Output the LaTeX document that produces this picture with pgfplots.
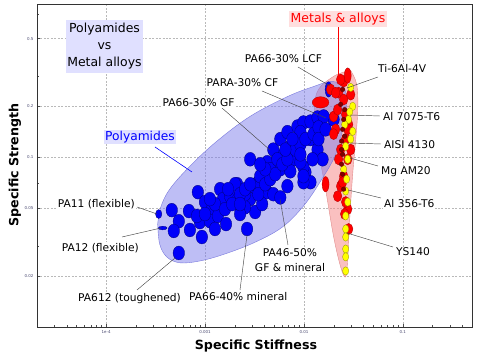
\documentclass[border=0pt]{standalone}
\usepackage{pgfplots}
\pgfplotsset{compat=1.18}
\usepackage{fontspec}
\setmainfont{DejaVu Sans}
\definecolor{envblue}{RGB}{125,125,235}
\definecolor{envblueedge}{RGB}{120,120,220}
\definecolor{envpink}{RGB}{245,129,129}
\definecolor{envpinkedge}{RGB}{225,140,140}
\definecolor{ptblue}{RGB}{0,0,250}
\definecolor{ptblueedge}{RGB}{0,0,120}
\definecolor{ptred}{RGB}{255,0,0}
\definecolor{ptrededge}{RGB}{170,0,0}
\definecolor{ptyel}{RGB}{255,255,0}
\definecolor{ptyeledge}{RGB}{150,150,0}
\definecolor{ptdark}{RGB}{128,0,0}
\definecolor{lav}{RGB}{224,224,255}
\definecolor{pinkbox}{RGB}{255,222,222}
\definecolor{tickc}{RGB}{70,70,110}
\definecolor{leader}{RGB}{70,70,70}
\newcommand\lab{\fontsize{10.7}{13}\selectfont}
\begin{document}
\begin{tikzpicture}
\path[use as bounding box] (-37bp,-32bp) rectangle (443bp,327bp);
\begin{axis}[
  at={(0,0)}, anchor=south west,
  scale only axis, width=435bp, height=323bp,
  xmode=log, ymode=log,
  xmin=2e-5, xmax=0.5, ymin=0.01, ymax=0.8,
  xtick={1e-4,1e-3,1e-2,1e-1}, xticklabels={1e-4,0.001,0.01,0.1},
  ytick={0.02,0.05,0.1,0.2,0.5}, yticklabels={0.02,0.05,0.1,0.2,0.5},
  minor xtick={3e-5,4e-5,5e-5,6e-5,7e-5,8e-5,9e-5,2e-4,3e-4,4e-4,5e-4,6e-4,7e-4,8e-4,9e-4,2e-3,3e-3,4e-3,5e-3,6e-3,7e-3,8e-3,9e-3,0.02,0.03,0.04,0.05,0.06,0.07,0.08,0.09,0.2,0.3,0.4},
  minor ytick={0.03,0.07,0.3,0.7},
  tick pos=left, tick align=inside,
  major tick length=3bp, minor tick length=2bp,
  every tick/.style={black!70, line width=0.3pt},
  grid=major, major grid style={dash pattern=on 2pt off 1.5pt, gray!55, line width=0.4pt},
  axis line style={black!80, line width=0.6pt},
  xticklabel style={font=\fontsize{4}{4}\selectfont, text=tickc},
  yticklabel style={font=\fontsize{4}{4}\selectfont, text=tickc},
]
% envelopes
\addplot[smooth, tension=0.6, fill=envpink, fill opacity=0.5, draw=envpinkedge, line width=0.4pt] coordinates {
(0.0297,0.3243) (0.0342,0.268) (0.0350,0.191) (0.0334,0.128) (0.0311,0.0795)
(0.0290,0.0432) (0.0277,0.0252) (0.0264,0.0197) (0.0235,0.0226) (0.01995,0.0341)
(0.01654,0.0649) (0.01403,0.111) (0.0128,0.191) (0.01403,0.251) (0.01948,0.297)
(0.0246,0.316) (0.0297,0.3243)} -- cycle;
\addplot[smooth, tension=0.6, fill=envblue, fill opacity=0.5, draw=envblueedge, line width=0.4pt] coordinates {
(3.32e-4,0.0404) (3.48e-4,0.0308) (4.10e-4,0.0259) (5.56e-4,0.0239) (8.87e-4,0.0245)
(1.59e-3,0.02695) (3.21e-3,0.0316) (6.05e-3,0.0388) (9.88e-3,0.0516) (0.01472,0.0723)
(0.0209,0.104) (0.0252,0.156) (0.0270,0.219) (0.0246,0.2645) (0.01859,0.2793)
(0.01249,0.261) (6.80e-3,0.2277) (2.86e-3,0.1743) (1.32e-3,0.1245) (7.03e-4,0.0886)
(4.40e-4,0.0649) (3.56e-4,0.0507) (3.32e-4,0.0404)} -- cycle;
% polyamides
\addplot[only marks, mark=*, mark size=5.8, mark options={fill=ptblue, draw=ptblueedge, line width=0.3pt, yscale=1.2}] coordinates {
(4.61e-4,0.0488) (5.43e-4,0.0420) (4.83e-4,0.0368) (5.43e-4,0.0273) (7.03e-4,0.0373)
(6.87e-4,0.0482) (8.87e-4,0.0415) (8.46e-4,0.0623) (8.27e-4,0.0451) (9.29e-4,0.0339)
(9.98e-4,0.0545) (1.17e-3,0.0495) (1.12e-3,0.0420) (1.42e-3,0.0649) (1.52e-3,0.0567)
(1.35e-3,0.0451) (1.63e-3,0.0404) (2.11e-3,0.0694) (1.79e-3,0.0590) (2.16e-3,0.0567)
(2.66e-3,0.0378) (2.86e-3,0.0567) (3.21e-3,0.0667) (3.21e-3,0.0476) (3.45e-3,0.0713)
(3.87e-3,0.0774) (4.25e-3,0.0623) (4.25e-3,0.0935) (4.79e-3,0.0795) (4.90e-3,0.0606)
(5.38e-3,0.1013) (5.77e-3,0.0850) (6.19e-3,0.0935) (7.29e-3,0.1000) (8.59e-3,0.1069)
(1.036e-2,0.0817) (1.164e-2,0.0713) (2.86e-3,0.0973) (4.90e-3,0.111) (5.77e-3,0.128)
(6.80e-3,0.1407) (8.59e-3,0.1518) (9.88e-3,0.1603) (1.164e-2,0.1624) (1.372e-2,0.1716)
(9.88e-3,0.0873) (4.57e-3,0.0850) (3.61e-3,0.0774) (5.38e-3,0.0973) (7.29e-3,0.1159)
(7.82e-3,0.0973) (2.01e-3,0.0694) (6.80e-3,0.0676) (9.88e-3,0.0713) (9.21e-3,0.1407)
(1.164e-2,0.128) (8.59e-3,0.111) (1.372e-2,0.111) (9.21e-3,0.0935) (1.543e-2,0.0973)
(1.995e-2,0.167) (1.58e-2,0.174) (9.88e-3,0.0774) (2.54e-3,0.0507) (1.26e-3,0.0378)
(2.26e-3,0.0463) (3.78e-3,0.0530) (7.29e-3,0.0827) (5.77e-3,0.0580) (2.54e-3,0.0606)
(9.98e-4,0.0463) (1.26e-3,0.0530) (1.59e-3,0.0495) (1.88e-3,0.0530) (2.26e-3,0.0606)
(2.54e-3,0.0649) (2.86e-3,0.0694) (3.45e-3,0.0606) (4.06e-3,0.0694) (4.57e-3,0.0743)
(5.13e-3,0.0795) (6.05e-3,0.0910) (6.80e-3,0.0973) (8.20e-3,0.111) (9.21e-3,0.119)
(0.01036,0.128) (0.01249,0.137) (0.01403,0.150) (4.06e-3,0.0850) (6.49e-3,0.111)
(7.64e-3,0.128) (2.26e-3,0.0530) (1.71e-3,0.0649) (1.12e-3,0.0567) (3.61e-3,0.0910)
(9.21e-3,0.104) (0.0122,0.0973) (0.01403,0.128) (0.01654,0.146)};
\addplot[only marks, mark=*, mark size=3.2, mark options={fill=ptblue, draw=ptblueedge, line width=0.3pt, yscale=1.4}] coordinates {(3.40e-4,0.0463)};
\addplot[only marks, mark=*, mark size=3.4, mark options={fill=ptblue, draw=ptblueedge, line width=0.3pt, xscale=1.3, yscale=0.55}] coordinates {(3.73e-4,0.0383)};
\addplot[only marks, mark=*, mark size=3.5, mark options={fill=ptblue, draw=ptblueedge, line width=0.3pt, yscale=2.2}] coordinates {(1.775e-2,0.251)};
% metals: red
\addplot[only marks, mark=*, mark size=4.3, mark options={fill=ptred, draw=ptrededge, line width=0.3pt, yscale=1.3}] coordinates {
(0.01859,0.251) (0.0224,0.2404) (0.0252,0.2793) (0.01995,0.174) (0.0209,0.146)
(0.0219,0.191) (0.0252,0.219) (0.0209,0.240) (0.0219,0.0590) (0.0235,0.0676)
(0.0252,0.0774) (0.0277,0.0495) (0.0264,0.0545) (0.0283,0.0378) (0.0277,0.0973)
(0.0246,0.0713) (0.0264,0.128) (0.0235,0.111) (0.0283,0.156) (0.01995,0.137)
(0.0297,0.234) (0.0235,0.287) (0.0264,0.179) (0.0277,0.146) (0.0224,0.0973)
(0.0297,0.111) (0.0258,0.0463)};
\addplot[only marks, mark=*, mark size=6, mark options={fill=ptred, draw=ptrededge, line width=0.3pt, xscale=1.4, yscale=0.95}] coordinates {(0.01472,0.2106)};
\addplot[only marks, mark=*, mark size=3.5, mark options={fill=ptred, draw=ptrededge, line width=0.3pt, yscale=2.2}] coordinates {(0.0277,0.303) (0.01654,0.0694)};
% metals: yellow
\addplot[only marks, mark=*, mark size=3.1, mark options={fill=ptyel, draw=ptyeledge, line width=0.3pt, yscale=1.35}] coordinates {
(0.0311,0.1996) (0.0283,0.167) (0.0311,0.1421) (0.0264,0.1159) (0.0277,0.0973)
(0.0264,0.0632) (0.0277,0.0545) (0.0264,0.0451) (0.0264,0.0378) (0.0264,0.0339)
(0.0264,0.0288) (0.0264,0.0259) (0.0264,0.0214) (0.0290,0.185) (0.0297,0.128)
(0.0252,0.085) (0.0270,0.0743) (0.0297,0.258) (0.0258,0.156)};
% metals: dark red
\addplot[only marks, mark=*, mark size=2.3, mark options={fill=ptdark, draw=ptdark!70!black, line width=0.3pt}] coordinates {
(0.0246,0.251) (0.0252,0.167) (0.0246,0.146) (0.0240,0.1245) (0.0246,0.104)
(0.0240,0.091) (0.0246,0.0795) (0.0252,0.0649) (0.0235,0.205) (0.0258,0.191)
(0.0240,0.111) (0.0258,0.133)};
\end{axis}
\begin{scope}[x=1bp, y=-1bp, shift={(-37bp,327bp)}]
% axis labels
\node[font=\fontsize{12.7}{15}\selectfont\bfseries] at (256,346) {Specific Stiffness};
\node[font=\fontsize{12.7}{15}\selectfont\bfseries, rotate=90] at (15,165) {Specific Strength};
% title box
\node[fill=lav, inner sep=0pt, minimum width=77bp, minimum height=53bp, align=center, font=\fontsize{12.5}{17}\selectfont] at (104.5,46.5) {Polyamides\\vs\\Metal alloys};
% metals label
\draw[red, line width=0.9pt] (338,27) -- (338,76);
\node[fill=pinkbox, text=red, inner sep=1.5bp, font=\fontsize{12.5}{15}\selectfont] at (338,19) {Metals \& alloys};
% polyamides label
\draw[blue, line width=0.6pt] (155,147) -- (192,172);
\node[fill=lav, text=blue, inner sep=1.5bp, font=\fontsize{12.3}{15}\selectfont] at (140,137) {Polyamides};
% leaders
\begin{scope}[leader, line width=0.45pt]
\draw (298,67) -- (330,86);
\draw (262,91) -- (326,118);
\draw (222,108) -- (270,150);
\draw (378,77) -- (347,88);
\draw (380,116) -- (350,115);
\draw (381,144) -- (350,143);
\draw (378,166) -- (350,158);
\draw (381,198) -- (348,190);
\draw (393,247) -- (347,233);
\draw (288,245) -- (280,199);
\draw (240,290) -- (247,235);
\draw (137,207) -- (157,214);
\draw (122,237) -- (161,228);
\draw (137,290) -- (175,258);
\end{scope}
% text labels
\node[fill=white, inner sep=1bp, font=\lab] at (283.5,59) {PA66-30\% LCF};
\node[fill=white, inner sep=1bp, font=\lab] at (242.5,83) {PARA-30\% CF};
\node[fill=white, inner sep=1bp, font=\lab] at (198.5,103) {PA66-30\% GF};
\node[fill=white, inner sep=1bp, font=\lab, anchor=west] at (377,69) {Ti-6Al-4V};
\node[fill=white, inner sep=1bp, font=\lab, anchor=west] at (382,117) {Al 7075-T6};
\node[fill=white, inner sep=1bp, font=\lab, anchor=west] at (383,145) {AISI 4130};
\node[fill=white, inner sep=1bp, font=\lab, anchor=west] at (380,172) {Mg AM20};
\node[fill=white, inner sep=1bp, font=\lab, anchor=west] at (383,204) {Al 356-T6};
\node[fill=white, inner sep=1bp, font=\lab, anchor=west] at (395,252) {YS140};
\node[fill=white, inner sep=1bp, font=\fontsize{10.7}{14.5}\selectfont, align=center] at (290,260) {PA46-50\%\\GF \& mineral};
\node[fill=white, inner sep=1bp, font=\lab, anchor=west] at (188,297) {PA66-40\% mineral};
\node[fill=white, inner sep=1bp, font=\lab, anchor=east] at (136,204) {PA11 (flexible)};
\node[fill=white, inner sep=1bp, font=\lab, anchor=east] at (140,248) {PA12 (flexible)};
\node[fill=white, inner sep=1bp, font=\lab, anchor=west] at (77,299) {PA612 (toughened)};
\end{scope}
\end{tikzpicture}
\end{document}
